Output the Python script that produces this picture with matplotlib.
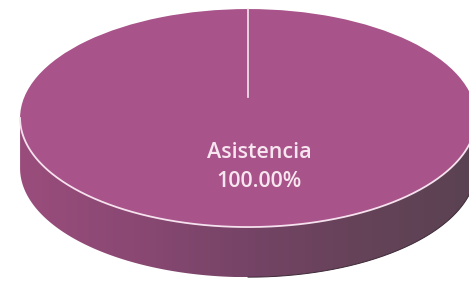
import numpy as np
import matplotlib
matplotlib.use("Agg")
import matplotlib.pyplot as plt
from matplotlib.path import Path
from matplotlib.colors import LinearSegmentedColormap

categories = ["Asistencia"]
values = [100.0]

top_color = "#a8538a"
depth = 0.46
XL = (-1.088, 0.969)
YL = (-1.495, 1.083)

fig = plt.figure(figsize=(4.69, 2.81), dpi=100)
ax = fig.add_axes([0, 0, 1, 1])

# side of the 3D pie
t = np.linspace(np.pi, 2 * np.pi, 300)
upper = np.column_stack([np.cos(t), np.sin(t)])
lower = np.column_stack([np.cos(t[::-1]), np.sin(t[::-1]) - depth])
verts = np.vstack([upper, lower, upper[:1]])
side_path = Path(verts, closed=True)

cmap = LinearSegmentedColormap.from_list(
    "side", ["#9a4d7c", "#8a4873", "#754466", "#654258", "#5a4352"])
grad = np.linspace(0, 1, 256).reshape(1, -1)
im = ax.imshow(grad, extent=(-1, 1, -1 - depth, 0), cmap=cmap, aspect="auto", zorder=1)
patch = matplotlib.patches.PathPatch(side_path, facecolor="none", edgecolor="none")
ax.add_patch(patch)
im.set_clip_path(patch)
# thin dark outline along bottom-right edge
tr = np.linspace(1.5 * np.pi, 2 * np.pi, 150)
ax.plot(np.cos(tr), np.sin(tr) - depth, color="#3e2a38", lw=0.7, zorder=1.5)

wedges, texts, autotexts = ax.pie(
    values,
    startangle=90,
    colors=[top_color],
    wedgeprops=dict(edgecolor="none", linewidth=0),
    autopct=lambda p: f"{categories[0]}\n{p:.2f}%",
    pctdistance=0.42,
    radius=1.0,
    frame=True,
)
for w in wedges:
    w.set_zorder(2)

# light front rim of the top face
ax.plot(np.cos(t), np.sin(t), color="#f6e1ee", lw=1.3, zorder=2.5)
# slice boundary line
ax.plot([0, 0], [0.19, 1.0], color="#f6e8f0", lw=1.2, zorder=2.5)

for at in autotexts:
    at.set_color("#f7e6ef")
    at.set_fontsize(15.5)
    at.set_fontweight("semibold")
    at.set_family("Open Sans")
    at.set_linespacing(1.5)
    at.set_zorder(3)
    at.set_x(0.05)
    at.set_y(-0.45)

ax.set_xlim(*XL)
ax.set_ylim(*YL)
ax.set_aspect("auto")
ax.axis("off")

fig.savefig("out.png", dpi=100, facecolor="white")
